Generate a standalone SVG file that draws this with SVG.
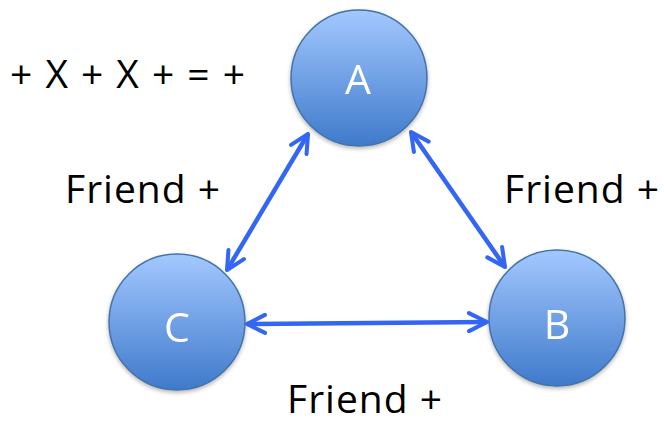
<svg xmlns="http://www.w3.org/2000/svg" width="664" height="425" viewBox="0 0 664 425">
<style>
.node{stroke:#4472a8;stroke-width:1.5;fill:url(#g)}
.nl{font-family:"Open Sans","Liberation Sans",sans-serif;font-size:41px;fill:#fff;text-anchor:middle}
.lbl{font-family:"Open Sans","Liberation Sans",sans-serif;font-size:39px;fill:#000}
.edge{stroke:#3366f5;stroke-width:4.5;fill:none;marker-start:url(#ah);marker-end:url(#ah)}
</style>
<defs>
<linearGradient id="g" x1="0" y1="0" x2="0" y2="1">
<stop offset="0" stop-color="#a3c8ff"/>
<stop offset="1" stop-color="#3f7acb"/>
</linearGradient>
<marker id="ah" viewBox="0 0 10 10" refX="9" refY="5" markerWidth="5" markerHeight="5" orient="auto-start-reverse" markerUnits="strokeWidth">
<path d="M1,1 L9,5 L1,9" fill="none" stroke="#3366f5" stroke-width="1.8" stroke-linecap="round" stroke-linejoin="round"/>
</marker>
<filter id="sh" x="-20%" y="-20%" width="140%" height="140%">
<feGaussianBlur in="SourceAlpha" stdDeviation="2"/>
<feOffset dy="2"/>
<feComponentTransfer><feFuncA type="linear" slope="0.3"/></feComponentTransfer>
<feMerge><feMergeNode/><feMergeNode in="SourceGraphic"/></feMerge>
</filter>
</defs>
<g id="A" filter="url(#sh)"><circle class="node" cx="359" cy="78" r="68"/><text class="nl" x="358" y="94">A</text></g>
<g id="C" filter="url(#sh)"><circle class="node" cx="177" cy="322" r="68"/><text class="nl" x="177" y="342">C</text></g>
<g id="B" filter="url(#sh)"><circle class="node" cx="557" cy="318" r="68"/><text class="nl" x="557" y="339">B</text></g>
<g id="connectors">
<line class="edge" x1="308" y1="134" x2="227" y2="270"/>
<line class="edge" x1="411" y1="132" x2="505" y2="267"/>
<line class="edge" x1="247" y1="324" x2="487" y2="322"/>
</g>
<g id="labels">
<text class="lbl" x="10" y="88" textLength="235" lengthAdjust="spacing">+ X + X + = +</text>
<text class="lbl" x="65" y="203" textLength="155" lengthAdjust="spacing">Friend +</text>
<text class="lbl" x="504" y="203" textLength="155" lengthAdjust="spacing">Friend +</text>
<text class="lbl" x="287" y="413" textLength="155" lengthAdjust="spacing">Friend +</text>
</g>
</svg>
